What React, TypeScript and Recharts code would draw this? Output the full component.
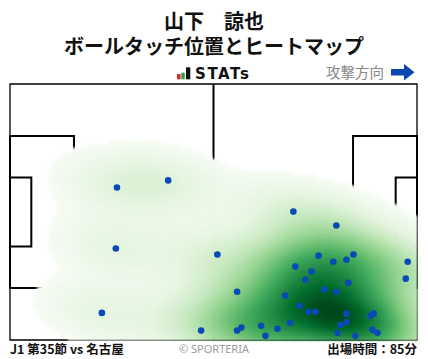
import {
  ReferenceArea,
  ReferenceLine,
  Scatter,
  ScatterChart,
  XAxis,
  YAxis,
} from "recharts";

// ball touches, pitch metres (x: 0-105 towards attack, y: 0-68 from top)
const touchX = [
  27.6, 40.8, 27.3, 23.7, 49.3, 53.5, 73.1, 84.2, 79.6, 88.6, 83.4, 86.8, 102.6,
  73.6, 77.8, 76.2, 102.1, 87.3, 58.6, 81.1, 84.2, 71.0, 74.7, 77.0, 78.8, 86.8,
  93.8, 93.0, 86.8, 85.3, 72.3, 64.8, 59.7, 58.6, 69.0, 65.9, 84.5, 89.1, 93.5,
  94.8,
];
const touchY = [
  27.5, 25.6, 43.7, 60.8, 65.5, 45.3, 33.9, 37.6, 45.6, 45.3, 47.2, 46.7, 47.2,
  48.5, 49.8, 52.0, 51.7, 52.8, 55.2, 54.6, 55.2, 56.2, 58.9, 60.5, 60.5, 61.0,
  61.0, 61.6, 63.2, 64.0, 63.4, 64.2, 64.7, 65.5, 65.0, 66.9, 66.1, 66.9, 65.3,
  66.1,
];

const PITCH_LEN = 105;
const PITCH_WID = 68;

// chart geometry
const W = 428;
const H = 359;
const M = { top: 84, left: 10, right: 11, bottom: 19 };
const PLOT_W = W - M.left - M.right;
const PLOT_H = H - M.top - M.bottom;

const touches = touchX.map((x, i) => ({ x, y: touchY[i] }));

// Greens colormap stops
const greens = [
  "#f7fcf5", "#e5f5e0", "#c7e9c0", "#a1d99b", "#74c476",
  "#41ab5d", "#238b45", "#006d2c", "#00441b",
];

const hexToRgb = (h: string) => [
  parseInt(h.slice(1, 3), 16),
  parseInt(h.slice(3, 5), 16),
  parseInt(h.slice(5, 7), 16),
];

const greenAt = (t: number) => {
  const v = Math.max(0, Math.min(1, t)) * (greens.length - 1);
  const i = Math.min(Math.floor(v), greens.length - 2);
  const f = v - i;
  const a = hexToRgb(greens[i]);
  const b = hexToRgb(greens[i + 1]);
  const c = a.map((ch, k) => Math.round(ch + (b[k] - ch) * f));
  return `rgb(${c[0]},${c[1]},${c[2]})`;
};

// gaussian KDE of the touches (Scott's rule, full covariance)
const buildHeat = () => {
  const n = touches.length;
  const mx = touchX.reduce((s, v) => s + v, 0) / n;
  const my = touchY.reduce((s, v) => s + v, 0) / n;
  let sxx = 0, syy = 0, sxy = 0;
  touches.forEach((p) => {
    sxx += (p.x - mx) ** 2;
    syy += (p.y - my) ** 2;
    sxy += (p.x - mx) * (p.y - my);
  });
  const f2 = Math.pow(n, -1 / 3);
  const a = (sxx / (n - 1)) * f2;
  const d = (syy / (n - 1)) * f2;
  const b = (sxy / (n - 1)) * f2;
  const det = a * d - b * b;
  const ia = d / det, id = a / det, ib = -b / det;

  const cells: { x: number; y: number; v: number }[] = [];
  for (let i = 0; i < PITCH_LEN; i++) {
    for (let j = 0; j < PITCH_WID; j++) {
      const cx = i + 0.5;
      const cy = j + 0.5;
      let v = 0;
      touches.forEach((p) => {
        const dx = cx - p.x;
        const dy = cy - p.y;
        v += Math.exp(-0.5 * (ia * dx * dx + 2 * ib * dx * dy + id * dy * dy));
      });
      cells.push({ x: cx, y: cy, v });
    }
  }
  // lowest level: drop the thinnest 1% of the mass
  const sorted = cells.map((c) => c.v).sort((p, q) => p - q);
  const total = sorted.reduce((s, v) => s + v, 0);
  let acc = 0;
  let thresh = sorted[0];
  for (const v of sorted) {
    acc += v;
    if (acc >= total * 0.01) {
      thresh = v;
      break;
    }
  }
  const max = sorted[sorted.length - 1];
  return cells
    .filter((c) => c.v >= thresh)
    .map((c) => ({
      ...c,
      fill: greenAt(Math.pow((c.v - thresh) / (max - thresh), 0.8)),
    }));
};

const heat = buildHeat();

const cellW = PLOT_W / PITCH_LEN + 0.6;
const cellH = PLOT_H / PITCH_WID + 0.6;

const HeatCell = (props: any) => (
  <rect
    x={props.cx - cellW / 2}
    y={props.cy - cellH / 2}
    width={cellW}
    height={cellH}
    fill={props.payload.fill}
  />
);

const TouchDot = (props: any) => (
  <circle cx={props.cx} cy={props.cy} r={3.3} fill="#0a4ab4" />
);

const line = { fill: "none", stroke: "#000", strokeWidth: 2, fillOpacity: 0 };

const jp = '"Noto Sans CJK JP", "Noto Sans", sans-serif';

export default function App() {
  return (
    <div
      style={{
        position: "absolute",
        left: 0,
        top: 0,
        width: W,
        height: H,
        background: "#fff",
        fontFamily: jp,
        overflow: "hidden",
      }}
    >
      <style>{`.heat-layer { filter: url(#heatBlur); }`}</style>
      <svg width={0} height={0} style={{ position: "absolute" }}>
        <defs>
          <filter id="heatBlur" x="-2%" y="-2%" width="104%" height="104%">
            <feGaussianBlur stdDeviation={1.3} />
          </filter>
        </defs>
      </svg>

      <div style={{ position: "absolute", top: 10, width: W, textAlign: "center", fontSize: 20, fontWeight: 700, lineHeight: "22px", color: "#111" }}>
        山下　諒也
      </div>
      <div style={{ position: "absolute", top: 35, width: W, textAlign: "center", fontSize: 20, fontWeight: 700, lineHeight: "22px", color: "#111" }}>
        ボールタッチ位置とヒートマップ
      </div>

      {/* STATs logo */}
      <svg width={14} height={13} style={{ position: "absolute", left: 177, top: 67 }}>
        <rect x={0} y={7} width={3.6} height={5.3} fill="#e0262b" />
        <rect x={4.3} y={5.7} width={3.4} height={6.6} fill="#2aa040" />
        <rect x={9} y={0.3} width={4.3} height={12} fill="#111" />
      </svg>
      <div style={{ position: "absolute", left: 195, top: 63, fontFamily: '"DejaVu Sans", sans-serif', fontWeight: 700, fontSize: 15, letterSpacing: 1.6, lineHeight: "22px", color: "#111" }}>
        STATs
      </div>

      <div style={{ position: "absolute", left: 326, top: 61, fontSize: 14.5, lineHeight: "22px", color: "#888" }}>
        攻撃方向
      </div>
      <svg width={24} height={17} style={{ position: "absolute", left: 391, top: 64 }}>
        <polygon points="0,5 13,5 13,0 23.5,8.2 13,16.5 13,11.5 0,11.5" fill="#0a47b0" />
      </svg>

      <div style={{ position: "absolute", left: 0, top: 0 }}>
        <ScatterChart width={W} height={H} margin={M}>
          <XAxis type="number" dataKey="x" domain={[0, PITCH_LEN]} hide />
          <YAxis type="number" dataKey="y" domain={[0, PITCH_WID]} reversed hide />
          <Scatter
            data={heat}
            shape={HeatCell}
            className="heat-layer"
            isAnimationActive={false}
          />
          <ReferenceArea x1={0} x2={PITCH_LEN} y1={0} y2={PITCH_WID} {...line} strokeWidth={1.3} />
          <ReferenceArea x1={0} x2={16.5} y1={13.84} y2={54.16} {...line} />
          <ReferenceArea x1={0} x2={5.5} y1={24.84} y2={43.16} {...line} />
          <ReferenceArea x1={88.5} x2={PITCH_LEN} y1={13.84} y2={54.16} {...line} />
          <ReferenceArea x1={99.5} x2={PITCH_LEN} y1={24.84} y2={43.16} {...line} />
          <ReferenceLine x={PITCH_LEN / 2} stroke="#000" strokeWidth={2} />
          <Scatter data={touches} shape={TouchDot} isAnimationActive={false} />
        </ScatterChart>
      </div>

      <div style={{ position: "absolute", left: 10, top: 340, fontSize: 12.5, fontWeight: 700, lineHeight: "18px", color: "#111" }}>
        J1 第35節 vs 名古屋
      </div>
      <div style={{ position: "absolute", left: 0, top: 340, width: W, textAlign: "center", fontSize: 11, lineHeight: "18px", color: "#9a9a9a", fontFamily: '"Noto Sans", sans-serif' }}>
        © SPORTERIA
      </div>
      <div style={{ position: "absolute", right: 11, top: 340, fontSize: 12.5, fontWeight: 700, lineHeight: "18px", color: "#111" }}>
        出場時間：85分
      </div>
    </div>
  );
}
